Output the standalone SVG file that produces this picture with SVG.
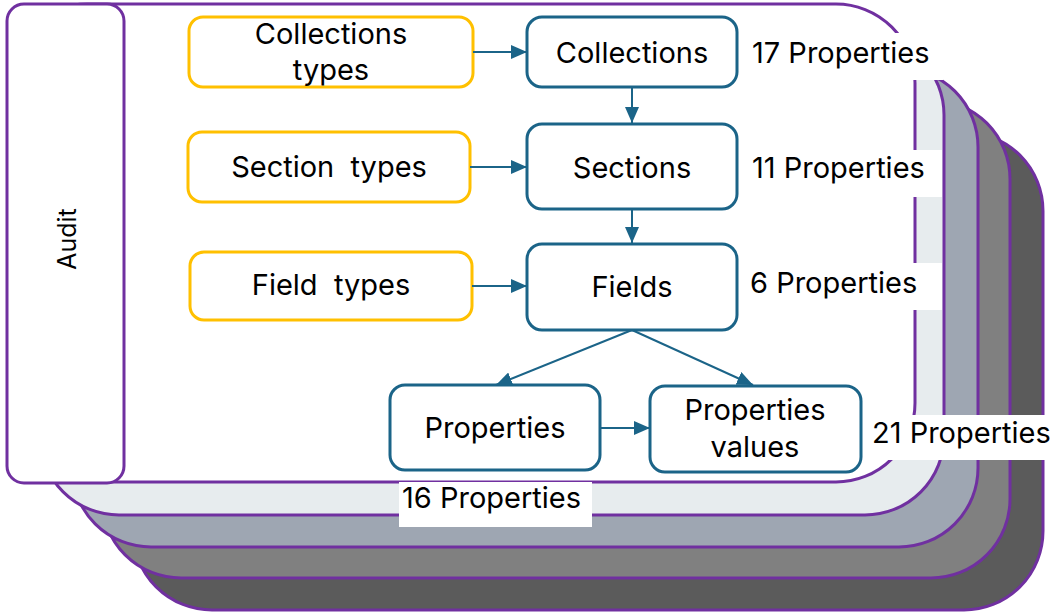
<svg xmlns="http://www.w3.org/2000/svg" width="1056" height="612" viewBox="0 0 1056 612">
  <style>
    .card { stroke: #7030A0; stroke-width: 3; }
    .audit { fill: #FFFFFF; stroke: #7030A0; stroke-width: 3; }
    .ybox { fill: #FFFFFF; stroke: #FFC000; stroke-width: 3; }
    .tbox { fill: #FFFFFF; stroke: #1B6488; stroke-width: 3; }
    .bg { fill: #FFFFFF; }
    .t { font-family: Inter, "Noto Sans", "Liberation Sans", sans-serif; font-size: 29px; fill: #000000; }
    .c { text-anchor: middle; }
    .conn { stroke: #1B6488; stroke-width: 2; fill: none; marker-end: url(#arrow); }
  </style>
  <defs>
    <marker id="arrow" markerUnits="userSpaceOnUse" markerWidth="16" markerHeight="14" refX="16" refY="7" orient="auto">
      <path d="M0,0 L16,7 L0,14 Z" fill="#1B6488"/>
    </marker>
  </defs>

  <g id="layers">
    <rect class="card" x="133" y="132" width="910" height="478" rx="79" fill="#5B5B5B"/>
    <rect class="card" x="102" y="100" width="908" height="478" rx="79" fill="#808080"/>
    <rect class="card" x="72" y="68" width="906" height="479" rx="79" fill="#9EA6B2"/>
    <rect class="card" x="40" y="36" width="904" height="479" rx="79" fill="#E7ECEE"/>
    <rect class="card" x="8" y="4" width="907" height="478" rx="79" fill="#FFFFFF"/>
  </g>

  <g id="audit">
    <rect class="audit" x="7" y="4" width="117" height="479" rx="17"/>
    <text class="t c" transform="translate(76,239) rotate(-90)" style="font-size:25px">Audit</text>
  </g>

  <g id="labels">
    <rect class="bg" x="745" y="33" width="198" height="47"/>
    <text class="t" x="752" y="63">17 Properties</text>
    <rect class="bg" x="745" y="150" width="197" height="47"/>
    <text class="t" x="752" y="178">11 Properties</text>
    <rect class="bg" x="745" y="263" width="197" height="47"/>
    <text class="t" x="750" y="293">6 Properties</text>
    <rect class="bg" x="399" y="482" width="193" height="45"/>
    <text class="t" x="402" y="508">16 Properties</text>
    <rect class="bg" x="866" y="415" width="187" height="45"/>
    <text class="t" x="872" y="443">21 Properties</text>
  </g>

  <g id="collections-types">
    <rect class="ybox" x="189" y="17" width="284" height="70" rx="14"/>
    <text class="t c" x="331" y="44">Collections</text>
    <text class="t c" x="331" y="80">types</text>
  </g>
  <g id="collections">
    <rect class="tbox" x="527" y="17" width="210" height="70" rx="15"/>
    <text class="t c" x="632" y="63">Collections</text>
  </g>
  <g id="section-types">
    <rect class="ybox" x="188" y="132" width="282" height="70" rx="14"/>
    <text class="t c" x="329" y="177" xml:space="preserve">Section  types</text>
  </g>
  <g id="sections">
    <rect class="tbox" x="527" y="124" width="210" height="85" rx="15"/>
    <text class="t c" x="632" y="178">Sections</text>
  </g>
  <g id="field-types">
    <rect class="ybox" x="190" y="252" width="282" height="68" rx="14"/>
    <text class="t c" x="331" y="295" xml:space="preserve">Field  types</text>
  </g>
  <g id="fields">
    <rect class="tbox" x="527" y="244" width="210" height="86" rx="15"/>
    <text class="t c" x="632" y="297">Fields</text>
  </g>
  <g id="properties">
    <rect class="tbox" x="390" y="385" width="210" height="85" rx="15"/>
    <text class="t c" x="495" y="438">Properties</text>
  </g>
  <g id="properties-values">
    <rect class="tbox" x="650" y="386" width="211" height="86" rx="15"/>
    <text class="t c" x="755" y="420">Properties</text>
    <text class="t c" x="755" y="457">values</text>
  </g>

  <g id="connectors">
    <line class="conn" x1="473" y1="52" x2="527" y2="52"/>
    <line class="conn" x1="470" y1="167" x2="527" y2="167"/>
    <line class="conn" x1="472" y1="286" x2="527" y2="286"/>
    <line class="conn" x1="632" y1="87" x2="632" y2="123"/>
    <line class="conn" x1="632" y1="209" x2="632" y2="243"/>
    <line class="conn" x1="632" y1="330" x2="496" y2="385"/>
    <line class="conn" x1="632" y1="330" x2="753" y2="385"/>
    <line class="conn" x1="600" y1="428" x2="650" y2="428"/>
  </g>
</svg>
